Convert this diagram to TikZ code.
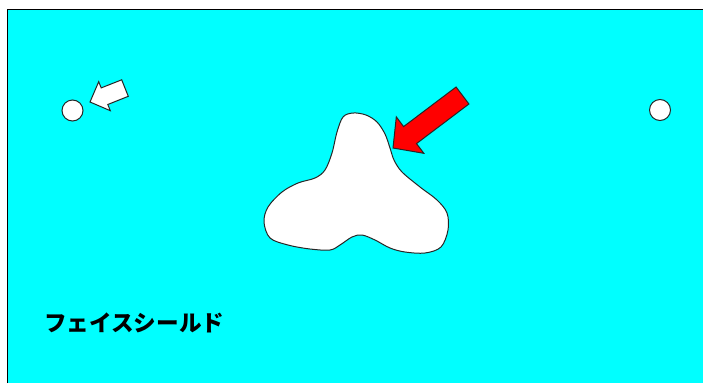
\documentclass[tikz,border=0pt]{standalone}
\usepackage{fontspec}
\newfontfamily\cjk{Noto Sans CJK JP}
\definecolor{aqua}{RGB}{0,255,255}
\begin{document}
\begin{tikzpicture}[x=1pt,y=-1pt,
  outline/.style={draw=black!85,line width=1pt},
  hole/.style={circle,outline,fill=white,inner sep=0pt,minimum size=21pt},
  lbl/.style={font=\cjk\bfseries\fontsize{22.6}{22.6}\selectfont,inner sep=0pt,anchor=west}]
\useasboundingbox (0,0) rectangle (703,383);
\fill[white] (0,0) rectangle (703,383);
\fill[aqua] (7.5,9.5) rectangle (703,383);
\draw[line width=1.5pt] (7.5,383) -- (7.5,9.5) -- (703,9.5);
% shield shape
\draw[outline,fill=white] plot[smooth cycle,tension=0.55] coordinates {
 (343,117) (353,113) (366,115) (377,122) (385,134) (390,148) (394,160)
 (402,172) (420,187) (437,200) (447,213) (448,230) (441,247) (425,253)
 (405,252) (390,248) (375,240) (362,235) (352,237) (340,245) (330,250)
 (310,249) (288,245) (270,238) (264,222) (268,207) (282,192) (298,183)
 (315,178) (325,170) (332,153) (337,132)};
% holes
\node[hole] (hl) at (72.5,110.5) {};
\node[hole] (hr) at (660,110) {};
% arrows
\draw[outline,fill=red] (393,148) -- (396.3,116.9) -- (403.6,126.6) -- (456.1,87.0)
  -- (468.9,104.0) -- (416.5,143.6) -- (423.8,153.3) -- cycle;
\draw[outline,fill=white] (90,102) -- (98.7,81.7) -- (101.2,87.9) -- (121.7,79.8)
  -- (128.3,96.3) -- (107.8,104.5) -- (110.3,110.7) -- cycle;
\node[lbl] (title) at (44,323) {フェイスシールド};
\end{tikzpicture}
\end{document}
